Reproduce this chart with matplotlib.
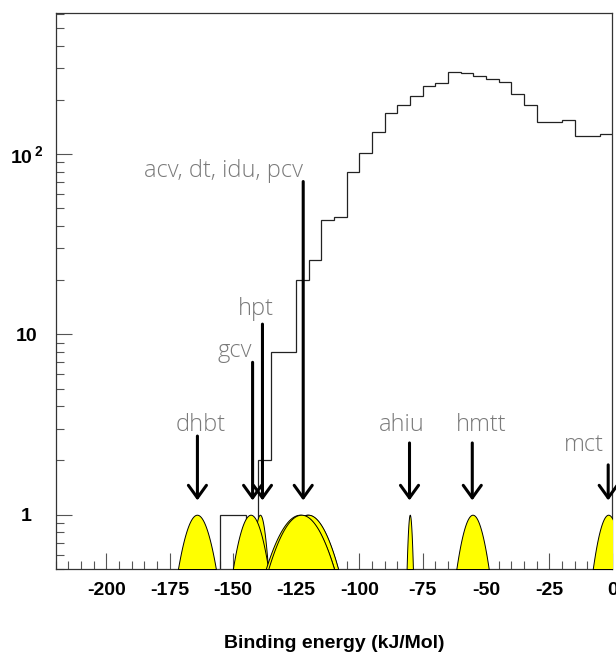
import numpy as np
import matplotlib
matplotlib.use('Agg')
import matplotlib.pyplot as plt
from matplotlib.ticker import LogLocator, NullFormatter, MultipleLocator

plt.rcParams['font.family'] = ['Liberation Sans', 'DejaVu Sans']
plt.rcParams['axes.unicode_minus'] = False
plt.rcParams['mathtext.fontset'] = 'custom'
plt.rcParams['mathtext.bf'] = 'Liberation Sans:bold'
plt.rcParams['mathtext.rm'] = 'Liberation Sans:bold'

# histogram of binding energies, 5 kJ/Mol bins from -220 to 0
bin_edges = np.arange(-220, 1, 5)
counts = [0, 0, 0, 0, 0, 0, 0, 0, 0, 0, 0, 0, 0,
          1, 1, 0, 2, 8, 8,
          20, 26, 43, 45, 80, 102, 132, 169, 187, 209, 238, 249,
          286, 283, 272, 262, 251, 216, 188, 151, 150, 154, 126, 126, 129]

# reference molecules: peak position and half width at the 0.5 level (draw order)
peak_names = ['dhbt', 'hpt', 'gcv', 'idu', 'pcv', 'acv', 'dt', 'ahiu', 'hmtt', 'mct']
peak_centers = [-164.2, -139.3, -143.0, -120.5, -120.3, -123.5, -123.0, -80.1, -55.3, -1.7]
peak_halfwidths = [7.5, 3.2, 7.0, 12.0, 11.9, 13.5, 13.0, 1.25, 6.4, 6.1]

# arrows and their labels
arrow_labels = ['dhbt', 'gcv', 'hpt', 'acv, dt, idu, pcv', 'ahiu', 'hmtt', 'mct']
arrow_x = [-164.0, -142.2, -138.3, -122.2, -80.2, -55.4, -1.7]
arrow_top = [2.73, 7.0, 11.4, 70.4, 2.5, 2.5, 1.89]
label_x = [-162.6, -149.3, -141.1, -153.8, -83.4, -52.0, -11.4]
label_y = [2.93, 7.5, 12.8, 75.0, 2.93, 2.93, 2.26]
arrow_tip = 1.2

x_ticks = [-200, -175, -150, -125, -100, -75, -50, -25, 0]
x_ticklabels = ['-200', '-175', '-150', '-125', '-100', '-75', '-50', '-25', '0']
y_ticks = [1, 10, 100]
y_ticklabels = ['1', '10', r'$\mathbf{10^{\,2}}$']

fig = plt.figure(figsize=(6.16, 6.55), dpi=100)
ax = fig.add_axes([0.0904, 0.1313, 0.9039, 0.8489])

ax.stairs(np.clip(counts, 1e-3, None), bin_edges, baseline=None,
          color='#222222', lw=0.9, zorder=2)

for c, hw in zip(peak_centers, peak_halfwidths):
    s = hw / np.sqrt(2 * np.log(2))
    xx = np.linspace(c - hw, c + hw, 200)
    yy = np.exp(-0.5 * ((xx - c) / s) ** 2)
    ax.fill_between(xx, 0.5, yy, facecolor='#ffff00', edgecolor='black',
                    lw=0.7, zorder=3)

for lab, x, top, lx, ly in zip(arrow_labels, arrow_x, arrow_top, label_x, label_y):
    ax.annotate('', xy=(x, arrow_tip), xytext=(x, top),
                arrowprops=dict(arrowstyle='->,head_length=0.9,head_width=0.65',
                                lw=2.2, color='black', shrinkA=0, shrinkB=0,
                                mutation_scale=10),
                zorder=4)
    ax.text(lx, ly, lab, ha='center', va='baseline', fontsize=17,
            family=['Open Sans', 'DejaVu Sans'], fontweight='light',
            color='#7a7a7a', zorder=5)

ax.set_yscale('log')
ax.set_xlim(-220, 0)
ax.set_ylim(0.5, 606)

ax.set_xticks(x_ticks)
ax.set_xticklabels(x_ticklabels, fontsize=14, fontweight='bold')
ax.xaxis.set_minor_locator(MultipleLocator(5))
ax.set_yticks(y_ticks)
ax.set_yticklabels(y_ticklabels, fontsize=14, fontweight='bold', ha='center')
ax.yaxis.set_minor_locator(LogLocator(base=10, subs=np.arange(2, 10)))
ax.yaxis.set_minor_formatter(NullFormatter())

ax.tick_params(axis='both', which='both', direction='in', width=0.8,
               color='#555555', top=False, right=False)
ax.tick_params(axis='both', which='major', length=11.5)
ax.tick_params(axis='both', which='minor', length=5.7)
ax.tick_params(axis='x', which='major', pad=9.5)
ax.tick_params(axis='y', which='major', pad=21)

for sp in ax.spines.values():
    sp.set_linewidth(0.9)
    sp.set_color('#333333')

ax.set_xlabel('Binding energy (kJ/Mol)', fontsize=14, fontweight='bold')
ax.xaxis.set_label_coords(0.5, -0.118)

fig.savefig('out.png', dpi=100)
